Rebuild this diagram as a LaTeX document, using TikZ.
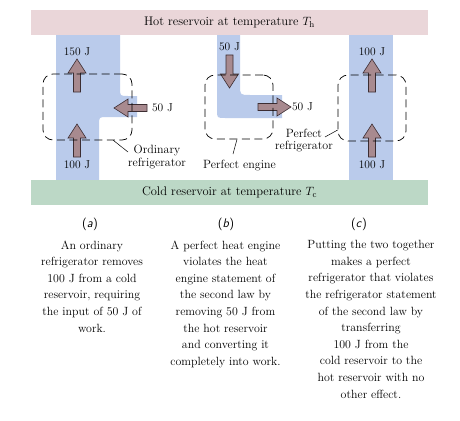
\documentclass[tikz,border=0pt]{standalone}
\usepackage{fontspec}
\definecolor{hotc}{HTML}{EAD6D9}
\definecolor{coldc}{HTML}{BCD8C6}
\definecolor{flowc}{HTML}{BACBEB}
\definecolor{arrfill}{HTML}{A88A8F}
\definecolor{arrline}{HTML}{3C2D32}
\begin{document}
\begin{tikzpicture}[x=1pt,y=-1pt,
  lbl/.style={font=\fontsize{12}{12.5}\selectfont, inner sep=0pt, align=center},
  num/.style={font=\fontsize{11.5}{12}\selectfont, inner sep=0pt},
  captxt/.style={font=\fontsize{11.9}{16.6}\selectfont, inner sep=0pt, align=center, anchor=north},
  tag/.style={font=\fontsize{12.5}{13}\selectfont\sffamily, inner sep=0pt},
  res/.style={minimum width=397pt, minimum height=25pt, inner sep=0pt, font=\fontsize{12.5}{13}\selectfont},
  dashbox/.style={draw, dash pattern=on 8pt off 4.5pt, rounded corners=10pt, line width=0.7pt, inner sep=0pt},
  leader/.style={draw, line width=0.5pt},
  barrow/.pic={\filldraw[fill=arrfill, draw=arrline, line width=0.6pt, line join=miter]
     (0,-3.5) -- (19,-3.5) -- (19,-9) -- (33,0) -- (19,9) -- (19,3.5) -- (0,3.5) -- cycle;}]
\useasboundingbox (0,0) rectangle (460,420);
% flows
\fill[flowc] (56,35) -- (120,35) -- (120,88) .. controls (120,96) .. (128,96) -- (137,96)
  -- (137,117) -- (107,117) .. controls (99,117) .. (99,125) -- (99,180) -- (56,180) -- cycle;
\fill[flowc] (217,35) -- (240,35) -- (240,85) .. controls (240,95) .. (250,95) -- (282,95)
  -- (282,118) -- (225,118) .. controls (217,118) .. (217,110) -- cycle;
\fill[flowc] (349,35) rectangle (393,180);
% reservoirs
\node[res, fill=hotc] (hot) at (229.5,22.5) {Hot reservoir at temperature $T_\mathrm{h}$};
\node[res, fill=coldc] (cold) at (229.5,192.5) {Cold reservoir at temperature $T_\mathrm{c}$};
% arrows
\pic[rotate=90] at (77,92) {barrow};
\pic[rotate=90] at (77,157) {barrow};
\pic[rotate=180] at (147,108) {barrow};
\pic[rotate=-90] at (229.5,55) {barrow};
\pic at (258,107) {barrow};
\pic[rotate=90] at (372,92) {barrow};
\pic[rotate=90] at (372,157) {barrow};
% numbers
\node[num] (qa1) at (77,52) {150 J};
\node[num] (qa2) at (77,165) {100 J};
\node[num] (wa) at (162.5,108) {50 J};
\node[num] (qb1) at (229.5,47) {50 J};
\node[num] (wb) at (302.5,107) {50 J};
\node[num] (qc1) at (372,52) {100 J};
\node[num] (qc2) at (372,165) {100 J};
% dashed boxes
\node[dashbox, minimum width=89pt, minimum height=66pt] (boxa) at (87.5,107) {};
\node[dashbox, minimum width=68pt, minimum height=64pt] (boxb) at (239,107) {};
\node[dashbox, minimum width=68pt, minimum height=66pt] (boxc) at (372,108) {};
% labels
\node[lbl] (lbla) at (157,157) {Ordinary\\refrigerator};
\node[lbl] (lblb) at (239.5,166) {Perfect engine};
\node[lbl] (lblc) at (304,140.5) {Perfect\\refrigerator};
\coordinate (enda) at (128,152);
\coordinate (endb) at (233,154);
\coordinate (endc) at (325,137);
\draw[leader] ([xshift=-19pt]boxa.south east) -- (enda);
\draw[leader] ([xshift=-2pt]boxb.south) -- (endb);
\draw[leader] ([yshift=-22pt]boxc.west) -- (endc);
% captions
\node[tag] (ta) at (90,224) {(\textit{a})};
\node[tag] (tb) at (226,224) {(\textit{b})};
\node[tag] (tc) at (359,224) {(\textit{c})};
\node[captxt] (capa) at (92,240.3) {An ordinary\\refrigerator removes\\100 J from a cold\\reservoir, requiring\\the input of 50 J of\\work.};
\node[captxt] (capb) at (225.5,240.3) {A perfect heat engine\\violates the heat\\engine statement of\\the second law by\\removing 50 J from\\the hot reservoir\\and converting it\\completely into work.};
\node[captxt] (capc) at (371,240.3) {Putting the two together\\makes a perfect\\refrigerator that violates\\the refrigerator statement\\of the second law by\\transferring\\100 J from the\\cold reservoir to the\\hot reservoir with no\\other effect.};
\end{tikzpicture}
\end{document}
